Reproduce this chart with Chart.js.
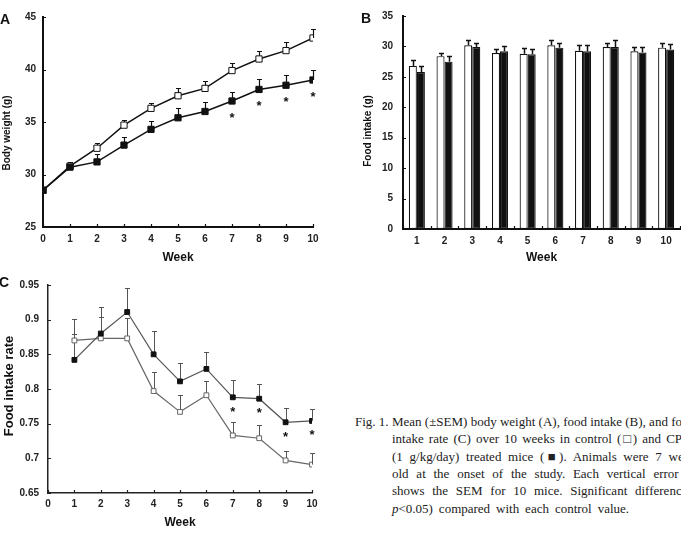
<!DOCTYPE html>
<html>
<head>
<meta charset="utf-8">
<script src="https://cdn.jsdelivr.net/npm/chart.js@4.4.1/dist/chart.umd.min.js"></script>
<style>
  body { margin: 0; width: 681px; height: 538px; overflow: hidden; background: #fff; position: relative; font-family: "Liberation Sans", Arial, sans-serif; }
  canvas { position: absolute; }
  .panel { position: absolute; font-weight: bold; font-size: 14px; line-height: 14px; color: #111; }
  .cap { position: absolute; font-family: "Liberation Serif", "Times New Roman", serif; font-size: 13px; line-height: 17px; height: 17px; color: #222; white-space: nowrap; }
  .just { white-space: normal; overflow: hidden; text-align: justify; text-align-last: justify; }
</style>
</head>
<body>
<canvas id="chartA" width="340" height="270" style="left:0;top:0"></canvas>
<canvas id="chartB" width="341" height="270" style="left:340px;top:0"></canvas>
<canvas id="chartC" width="340" height="268" style="left:0;top:270px"></canvas>

<div class="panel" style="left:0;top:12px">A</div>
<div class="panel" style="left:361px;top:11px">B</div>
<div class="panel" style="left:-1px;top:275px">C</div>

<div class="cap" style="left:355px;top:413px">Fig. 1.</div>
<div class="cap just" style="left:392px;top:413px;width:303px">Mean (±SEM) body weight (A), food intake (B), and food</div>
<div class="cap just" style="left:392px;top:430px;width:298px">intake rate (C) over 10 weeks in control (□) and CPE</div>
<div class="cap just" style="left:392px;top:448px;width:309px">(1 g/kg/day) treated mice (■). Animals were 7 weeks</div>
<div class="cap just" style="left:392px;top:465px;width:311px">old at the onset of the study. Each vertical error bar</div>
<div class="cap just" style="left:392px;top:482px;width:314px">shows the SEM for 10 mice. Significant difference (*</div>
<div class="cap" style="left:392px;top:500px;word-spacing:2.7px"><i>p</i>&lt;0.05) compared with each control value.</div>

<script>
// ---- data ----
const weeksA = [0, 1, 2, 3, 4, 5, 6, 7, 8, 9, 10];
const bwControl = [28.5, 30.8, 32.5, 34.7, 36.3, 37.5, 38.2, 39.9, 41.0, 41.8, 43.0];
const bwControlSem = [0, 0.4, 0.5, 0.5, 0.5, 0.7, 0.7, 0.75, 0.8, 0.8, 0.9];
const bwTreated = [28.5, 30.7, 31.2, 32.8, 34.3, 35.4, 36.0, 37.0, 38.1, 38.5, 39.0];
const bwTreatedSem = [0, 0.3, 0.8, 0.8, 0.8, 0.9, 0.9, 0.9, 1.0, 1.0, 1.0];

const weeksB = ['1', '2', '3', '4', '5', '6', '7', '8', '9', '10'];
const fiControl = [26.8, 28.4, 30.2, 28.9, 28.8, 30.2, 29.3, 29.9, 29.2, 29.8];
const fiControlSem = [1.0, 0.6, 0.9, 0.7, 1.0, 0.9, 1.0, 0.7, 0.7, 0.8];
const fiTreated = [25.8, 27.5, 29.9, 29.2, 28.7, 29.8, 29.2, 29.9, 29.0, 29.5];
const fiTreatedSem = [1.0, 0.9, 0.7, 0.8, 0.9, 0.7, 1.1, 1.1, 0.9, 0.9];

const weeksC = [1, 2, 3, 4, 5, 6, 7, 8, 9, 10];
const rateControl = [0.870, 0.873, 0.873, 0.797, 0.767, 0.791, 0.733, 0.729, 0.697, 0.691];
const rateControlSem = [0.031, 0.031, 0.029, 0.027, 0.025, 0.021, 0.019, 0.019, 0.013, 0.016];
const rateTreated = [0.842, 0.880, 0.911, 0.850, 0.811, 0.829, 0.788, 0.786, 0.752, 0.754];
const rateTreatedSem = [0.038, 0.038, 0.034, 0.033, 0.027, 0.025, 0.025, 0.021, 0.020, 0.017];

const sigWeeks = [7, 8, 9, 10]; // p<0.05 vs control

Chart.defaults.font.family = '"Liberation Sans", Arial, sans-serif';
Chart.defaults.color = '#111';
Chart.defaults.animation = false;

const toXY = (xs, ys) => xs.map((x, i) => ({ x: x, y: ys[i] }));

// whiskers (upper only) drawn under the markers
const errorBars = {
  id: 'errorBars',
  beforeDatasetsDraw(chart, args, opts) {
    const ctx = chart.ctx, y = chart.scales.y;
    chart.data.datasets.forEach((ds, di) => {
      if (!ds.sem) return;
      const meta = chart.getDatasetMeta(di);
      ctx.save();
      ctx.strokeStyle = opts.color;
      ctx.lineWidth = opts.width;
      meta.data.forEach((el, i) => {
        const sem = ds.sem[i];
        if (!sem) return;
        const v = typeof ds.data[i] === 'object' ? ds.data[i].y : ds.data[i];
        const top = Math.round(y.getPixelForValue(v + sem)) + 0.5;
        const x = Math.round(el.x) + 0.5;
        ctx.beginPath();
        ctx.moveTo(x, el.y);
        ctx.lineTo(x, top);
        ctx.moveTo(x - opts.cap, top);
        ctx.lineTo(x + opts.cap, top);
        ctx.stroke();
      });
      ctx.restore();
    });
  }
};

const stars = {
  id: 'stars',
  afterDatasetsDraw(chart, args, opts) {
    const ctx = chart.ctx;
    const di = chart.data.datasets.findIndex(d => d.starred);
    if (di < 0) return;
    const ds = chart.data.datasets[di];
    const meta = chart.getDatasetMeta(di);
    ctx.save();
    ctx.font = opts.font;
    ctx.fillStyle = '#111';
    ctx.textAlign = 'center';
    ctx.textBaseline = 'alphabetic';
    meta.data.forEach((el, i) => {
      if (sigWeeks.includes(ds.data[i].x)) ctx.fillText('*', el.x, el.y + opts.dy);
    });
    ctx.restore();
  }
};

// small tick marks pointing into the plot
const innerTicks = {
  id: 'innerTicks',
  afterDraw(chart, args, opts) {
    const { ctx, chartArea } = chart;
    const { x, y } = chart.scales;
    ctx.save();
    ctx.strokeStyle = opts.color;
    ctx.lineWidth = opts.width;
    ctx.beginPath();
    y.ticks.forEach((t, i) => {
      const py = Math.round(y.getPixelForTick(i)) + 0.5;
      ctx.moveTo(chartArea.left, py);
      ctx.lineTo(chartArea.left + opts.len, py);
    });
    let xs;
    if (opts.between) {
      xs = x.ticks.map((t, i) => x.getPixelForValue(i - 0.5));
      xs.push(x.getPixelForValue(x.ticks.length - 0.5));
    } else {
      xs = x.ticks.map((t, i) => x.getPixelForTick(i));
    }
    xs.forEach(px => {
      px = Math.round(px) + 0.5;
      ctx.moveTo(px, chartArea.bottom);
      ctx.lineTo(px, chartArea.bottom - opts.len);
    });
    ctx.stroke();
    ctx.restore();
  }
};

// rotated y title placed where the figure has it
const yTitle = {
  id: 'yTitle',
  afterDraw(chart, args, opts) {
    const ctx = chart.ctx;
    ctx.save();
    ctx.translate(opts.x, opts.y);
    ctx.rotate(-Math.PI / 2);
    ctx.font = opts.font;
    ctx.fillStyle = '#111';
    ctx.textAlign = 'center';
    ctx.textBaseline = 'middle';
    ctx.fillText(opts.text, 0, 0);
    ctx.restore();
  }
};

const plugins = [errorBars, stars, innerTicks, yTitle];

// ---- A: body weight ----
new Chart(document.getElementById('chartA'), {
  type: 'line',
  data: {
    datasets: [
      {
        data: toXY(weeksA, bwTreated), sem: bwTreatedSem, starred: true, order: 0,
        borderColor: '#111', borderWidth: 1.5, pointStyle: 'rect', pointRadius: 4.4,
        pointBackgroundColor: '#111', pointBorderColor: '#111', pointBorderWidth: 1
      },
      {
        data: toXY(weeksA, bwControl), sem: bwControlSem, order: 1,
        borderColor: '#111', borderWidth: 1.5, pointStyle: 'rect', pointRadius: 4.4,
        pointBackgroundColor: '#fff', pointBorderColor: '#111', pointBorderWidth: 1
      }
    ]
  },
  options: {
    responsive: false,
    layout: { padding: { top: 17, right: 27, bottom: 0, left: 0 } },
    scales: {
      x: {
        type: 'linear', min: 0, max: 10,
        ticks: { stepSize: 1, padding: 6, font: { size: 10, weight: 'bold' }, color: '#222' },
        grid: { display: false, drawTicks: false },
        border: { color: '#111', width: 2 },
        title: { display: true, text: 'Week', font: { size: 12, weight: 'bold' }, padding: { top: 0, bottom: 5 } },
        afterFit: s => { s.height = 43; }
      },
      y: {
        min: 25, max: 45,
        ticks: { stepSize: 5, padding: 7, font: { size: 10, weight: 'bold' }, color: '#222' },
        grid: { display: false, drawTicks: false },
        border: { color: '#111', width: 2 },
        afterFit: s => { s.width = 43; }
      }
    },
    plugins: {
      legend: { display: false },
      tooltip: { enabled: false },
      errorBars: { color: '#111', width: 1.2, cap: 2.5 },
      stars: { font: 'bold 13px "Liberation Sans", Arial', dy: 21 },
      innerTicks: { color: '#111', width: 1.2, len: 3 },
      yTitle: { text: 'Body weight (g)', font: 'bold 10px "Liberation Sans", Arial', x: 7, y: 133 }
    }
  },
  plugins: plugins
});

// ---- B: food intake ----
new Chart(document.getElementById('chartB'), {
  type: 'bar',
  data: {
    labels: weeksB,
    datasets: [
      { data: fiControl, sem: fiControlSem, backgroundColor: '#fff', borderColor: '#111', borderWidth: 1.2, borderSkipped: false },
      { data: fiTreated, sem: fiTreatedSem, backgroundColor: '#111', borderColor: '#111', borderWidth: 1.2, borderSkipped: false }
    ]
  },
  options: {
    responsive: false,
    categoryPercentage: 0.58,
    barPercentage: 1.0,
    layout: { padding: { top: 16, right: 1, bottom: 0, left: 0 } },
    scales: {
      x: {
        ticks: { padding: 6, font: { size: 10, weight: 'bold' }, color: '#222' },
        grid: { display: false, drawTicks: false },
        border: { color: '#111', width: 2 },
        title: { display: true, text: 'Week', font: { size: 12, weight: 'bold' }, padding: { top: 0, bottom: 5 } },
        afterFit: s => { s.height = 41; }
      },
      y: {
        min: 0, max: 35,
        ticks: { stepSize: 5, padding: 10, font: { size: 10, weight: 'bold' }, color: '#222' },
        grid: { display: false, drawTicks: false },
        border: { color: '#111', width: 2 },
        afterFit: s => { s.width = 63; }
      }
    },
    plugins: {
      legend: { display: false },
      tooltip: { enabled: false },
      errorBars: { color: '#111', width: 1.5, cap: 2.5 },
      stars: { font: 'bold 13px "Liberation Sans", Arial', dy: 0 },
      innerTicks: { color: '#111', width: 1.2, len: 3, between: true },
      yTitle: { text: 'Food intake (g)', font: 'bold 10px "Liberation Sans", Arial', x: 28, y: 131 }
    }
  },
  plugins: plugins
});

// ---- C: food intake rate ----
new Chart(document.getElementById('chartC'), {
  type: 'line',
  data: {
    datasets: [
      {
        data: toXY(weeksC, rateTreated), sem: rateTreatedSem, starred: true, order: 0,
        borderColor: '#555', borderWidth: 1.2, pointStyle: 'rect', pointRadius: 3.4,
        pointBackgroundColor: '#111', pointBorderColor: '#111', pointBorderWidth: 1
      },
      {
        data: toXY(weeksC, rateControl), sem: rateControlSem, order: 1,
        borderColor: '#666', borderWidth: 1.2, pointStyle: 'rect', pointRadius: 3.4,
        pointBackgroundColor: '#fff', pointBorderColor: '#666', pointBorderWidth: 1
      }
    ]
  },
  options: {
    responsive: false,
    layout: { padding: { top: 11, right: 28, bottom: 0, left: 0 } },
    scales: {
      x: {
        type: 'linear', min: 0, max: 10,
        ticks: { stepSize: 1, padding: 5, font: { size: 10, weight: 'bold' }, color: '#222' },
        grid: { display: false, drawTicks: false },
        border: { color: '#222', width: 1.5 },
        title: { display: true, text: 'Week', font: { size: 12, weight: 'bold' }, padding: { top: 0, bottom: 8 } },
        afterFit: s => { s.height = 45; }
      },
      y: {
        min: 0.65, max: 0.95,
        ticks: {
          stepSize: 0.05, padding: 9, font: { size: 10, weight: 'bold' }, color: '#222',
          callback: v => String(Math.round(v * 100) / 100)
        },
        grid: { display: false, drawTicks: false },
        border: { color: '#222', width: 1.5 },
        afterFit: s => { s.width = 48; }
      }
    },
    plugins: {
      legend: { display: false },
      tooltip: { enabled: false },
      errorBars: { color: '#555', width: 1, cap: 2.5 },
      stars: { font: 'bold 13px "Liberation Sans", Arial', dy: 18.5 },
      innerTicks: { color: '#222', width: 1.2, len: 3 },
      yTitle: { text: 'Food intake rate', font: 'bold 13px "Liberation Sans", Arial', x: 9, y: 116 }
    }
  },
  plugins: plugins
});
</script>
</body>
</html>
